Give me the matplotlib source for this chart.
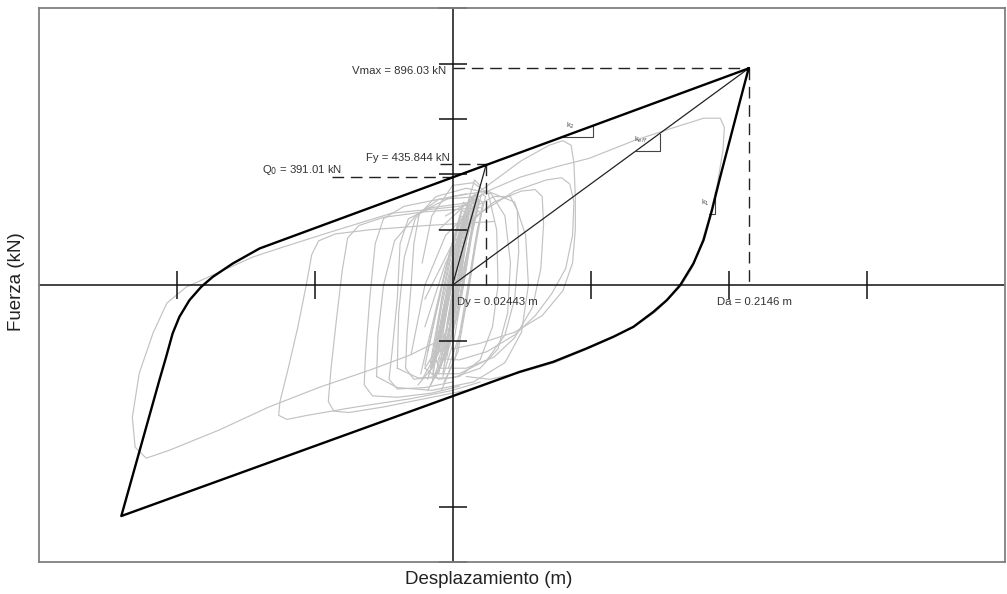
import matplotlib
matplotlib.use("Agg")
import matplotlib.pyplot as plt

plt.rcParams['font.family'] = ['Liberation Sans', 'DejaVu Sans']

# ---------------- data (displacement m, force kN as drawn) ----------------
# bilinear envelope loop (black)
loop_x = [0.2146, -0.1398, -0.1592, -0.1737, -0.1821, -0.1906, -0.1979, -0.2028,
          -0.2075, -0.2124, -0.2400, 0.0488, 0.0730, 0.0972, 0.1165, 0.1311,
          0.1456, 0.1553, 0.1650, 0.1746, 0.1819, 0.1880, 0.1940, 0.2085, 0.2146]
loop_y = [783, 132.5, 78.3, 30.0, -6.1, -54.2, -114.4, -174.4, -258.9, -343,
          -834, -313, -277, -228.5, -186.6, -150.5, -96.4, -54.2, 0, 78.3,
          162.5, 270.8, 391, 668, 783]

# key values
Q0 = 391.01
Fy = 435.844
Dy = 0.02443
Da = 0.2146
Vmax_drawn = 783
labels = ["Vmax = 896.03 kN", "Fy = 435.844 kN", "Q$_0$ = 391.01 kN",
          "Dy = 0.02443 m", "Da = 0.2146 m"]

xticks = [-0.2, -0.1, 0.1, 0.2, 0.3]
yticks = [1000, 800, 600, 400, 200, -200, -800, -1000]

# time-history hysteresis (gray)
g_left_x = [0.012, 0.0, -0.044, -0.089, -0.125, -0.145, -0.169, -0.193, -0.207,
            -0.217, -0.227, -0.232, -0.230, -0.222, -0.205, -0.169, -0.133,
            -0.096, -0.060, -0.031, -0.009, 0.002]
g_left_y = [290, 282, 260, 191, 134, 101, 47, -7, -65, -173, -318, -477, -585,
            -625, -596, -523, -440, -368, -307, -253, -199, -126]
g_right_x = [-0.005, 0.027, 0.049, 0.077, 0.099, 0.132, 0.159, 0.182, 0.194,
             0.197, 0.196, 0.192, 0.187, 0.181, 0.174, 0.166, 0.156, 0.147,
             0.132, 0.117, 0.098, 0.074, 0.049, 0.027, 0.010]
g_right_y = [250, 343, 390, 430, 458, 523, 567, 603, 603, 570, 488, 368, 260,
             162, 65, 0, -54, -97, -150, -188, -230, -280, -316, -340, -330]
m1_x = [0.03, -0.02, -0.06, -0.085, -0.097, -0.102, -0.106, -0.112, -0.119,
        -0.125, -0.126, -0.12, -0.105, -0.07, -0.03, 0.0, 0.02]
m1_y = [230, 215, 200, 185, 160, 110, 0, -150, -300, -420, -470, -485, -470,
        -440, -410, -380, -350]
m2_x = [0.02, -0.02, -0.05, -0.068, -0.076, -0.080, -0.084, -0.088, -0.090,
        -0.086, -0.075, -0.05, -0.02, 0.01]
m2_y = [280, 265, 245, 215, 170, 50, -120, -300, -420, -455, -460, -440, -410,
        -380]
m3_x = [0.02, -0.01, -0.035, -0.05, -0.056, -0.060, -0.063, -0.064, -0.058,
        -0.04, -0.015, 0.005]
m3_y = [320, 310, 285, 240, 150, -50, -250, -360, -400, -405, -390, -365]
m3b_x = [0.015, -0.015, -0.032, -0.038, -0.040, -0.044, -0.046, -0.04, -0.02, 0.0]
m3b_y = [300, 280, 240, 150, -50, -250, -340, -375, -370, -350]
m3c_x = [0.01, -0.01, -0.024, -0.028, -0.030, -0.033, -0.034, -0.028, -0.012]
m3c_y = [330, 310, 260, 150, 0, -180, -300, -340, -330]
m4_x = [-0.02, 0.0, 0.02, 0.045, 0.068, 0.079, 0.085, 0.088, 0.087, 0.082,
        0.072, 0.060, 0.045, 0.025, 0.005, -0.01]
m4_y = [-50, 150, 260, 340, 380, 388, 365, 300, 180, 60, -30, -110, -180, -240,
        -270, -265]
m5_x = [-0.01, 0.02, 0.05, 0.07, 0.080, 0.086, 0.088, 0.089, 0.089, 0.087,
        0.080, 0.065, 0.045, 0.02, 0.0]
m5_y = [200, 340, 450, 505, 522, 505, 440, 320, 200, 80, -20, -110, -170, -210,
        -230]
m6_x = [-0.04, -0.025, 0.0, 0.02, 0.033, 0.040, 0.042, 0.038, 0.028, 0.01,
        -0.012, -0.027, -0.035, -0.039, -0.04]
m6_y = [-300, -335, -335, -300, -230, -100, 80, 250, 330, 350, 320, 240, 100,
        -100, -300]
m7_x = [-0.055, -0.04, -0.015, 0.015, 0.038, 0.050, 0.055, 0.053, 0.045, 0.025,
        0.0, -0.025, -0.042, -0.05, -0.054, -0.055]
m7_y = [-330, -370, -380, -350, -280, -170, 0, 180, 300, 340, 320, 260, 160, 0,
        -180, -330]
m9_x = [-0.02, -0.005, 0.01, 0.03, 0.05, 0.060, 0.065, 0.066, 0.064, 0.058,
        0.045, 0.03, 0.01, -0.01]
m9_y = [-150, 80, 220, 300, 340, 345, 320, 220, 60, -80, -190, -260, -300, -300]
m10_x = [-0.03, -0.02, -0.005, 0.015, 0.03, 0.042, 0.047, 0.048, 0.045, 0.038,
         0.025, 0.005, -0.015]
m10_y = [-250, 0, 180, 280, 320, 320, 270, 120, -50, -180, -270, -320, -320]
m11_x = [-0.02, -0.01, 0.005, 0.02, 0.029, 0.033, 0.032, 0.026, 0.015, 0.0,
         -0.015, -0.022]
m11_y = [-300, -340, -330, -270, -150, 0, 200, 330, 370, 360, 250, 80]

n1_x = [-0.010, 0.000, 0.008, 0.014, 0.016, 0.010, 0.000, -0.008, -0.013, -0.010]
n1_y = [-300, -180, 0, 200, 300, 280, 150, -50, -250, -300]
n2_x = [-0.006, 0.003, 0.010, 0.015, 0.012, 0.004, -0.004, -0.010, -0.006]
n2_y = [-260, -120, 80, 240, 260, 120, -60, -220, -260]
n3_x = [-0.014, -0.004, 0.004, 0.012, 0.018, 0.014, 0.004, -0.006, -0.014, -0.014]
n3_y = [-340, -200, 0, 220, 330, 320, 140, -80, -280, -340]
n4_x = [-0.004, 0.002, 0.007, 0.011, 0.008, 0.002, -0.003, -0.007, -0.004]
n4_y = [-200, -100, 60, 190, 200, 80, -60, -180, -200]
n5_x = [-0.016, -0.006, 0.002, 0.010, 0.020, 0.016, 0.004, -0.004, -0.012, -0.018]
n5_y = [-360, -260, -60, 160, 360, 380, 180, -20, -240, -340]
n6_x = [-0.008, 0.002, 0.010, 0.016, 0.022, 0.018, 0.008, -0.002, -0.010]
n6_y = [-380, -260, -60, 140, 300, 310, 120, -100, -320]
n7_x = [-0.020, -0.010, -0.002, 0.006, 0.012, 0.008, -0.002, -0.010, -0.018]
n7_y = [-300, -220, -40, 160, 280, 300, 120, -60, -240]
n8_x = [-0.002, 0.004, 0.008, 0.010, 0.006, 0.002, -0.002, -0.004]
n8_y = [-150, -40, 100, 160, 150, 40, -80, -140]
n9_x = [-0.012, -0.002, 0.006, 0.013, 0.019, 0.016, 0.006, -0.004, -0.011, -0.014]
n9_y = [-330, -220, -20, 180, 310, 330, 160, -40, -230, -320]
n10_x = [-0.018, -0.008, 0.000, 0.008, 0.016, 0.013, 0.002, -0.008, -0.016]
n10_y = [-380, -290, -100, 120, 300, 320, 140, -80, -300]
n11_x = [-0.003, 0.005, 0.012, 0.018, 0.024, 0.021, 0.012, 0.003, -0.004]
n11_y = [-300, -180, 20, 200, 320, 330, 150, -60, -260]
n12_x = [-0.022, -0.013, -0.005, 0.003, 0.010, 0.007, -0.003, -0.012, -0.020]
n12_y = [-340, -260, -80, 120, 260, 270, 100, -100, -290]
n13_x = [-0.009, -0.002, 0.004, 0.009, 0.012, 0.009, 0.002, -0.004, -0.009]
n13_y = [-240, -120, 40, 180, 250, 250, 110, -60, -200]
n14_x = [-0.015, -0.006, 0.002, 0.009, 0.014, 0.011, 0.002, -0.007, -0.014]
n14_y = [-300, -200, -20, 160, 260, 270, 100, -90, -270]
n15_x = [-0.006, 0.004, 0.011, 0.017, 0.021, 0.018, 0.009, 0.0, -0.007]
n15_y = [-350, -240, -40, 150, 260, 270, 80, -120, -320]
n16_x = [-0.025, -0.015, -0.006, 0.001, 0.006, 0.003, -0.006, -0.015, -0.023]
n16_y = [-360, -300, -120, 60, 200, 200, 40, -150, -320]
n17_x = [-0.011, -0.003, 0.004, 0.010, 0.015, 0.012, 0.004, -0.004, -0.010]
n17_y = [-280, -170, 0, 170, 280, 290, 130, -40, -230]
n18_x = [-0.017, -0.010, -0.003, 0.004, 0.009, 0.006, -0.002, -0.010, -0.016]
n18_y = [-320, -240, -60, 120, 240, 250, 80, -110, -280]
n19_x = [-0.007, 0.001, 0.008, 0.014, 0.019, 0.016, 0.008, 0.000, -0.006]
n19_y = [-330, -200, 0, 180, 300, 310, 130, -80, -290]
n20_x = [-0.013, -0.005, 0.001, 0.007, 0.011, 0.008, 0.0, -0.006, -0.012]
n20_y = [-270, -170, -10, 150, 240, 240, 90, -70, -230]

gray_series = [(g_left_x, g_left_y), (g_right_x, g_right_y), (m1_x, m1_y),
               (m2_x, m2_y), (m3_x, m3_y), (m3b_x, m3b_y), (m3c_x, m3c_y),
               (m4_x, m4_y), (m5_x, m5_y), (m6_x, m6_y), (m7_x, m7_y),
               (m9_x, m9_y), (m10_x, m10_y), (m11_x, m11_y),
               (n1_x, n1_y), (n2_x, n2_y), (n3_x, n3_y), (n4_x, n4_y),
               (n5_x, n5_y), (n6_x, n6_y), (n7_x, n7_y), (n8_x, n8_y),
               (n9_x, n9_y), (n10_x, n10_y), (n11_x, n11_y), (n12_x, n12_y),
               (n13_x, n13_y), (n14_x, n14_y), (n15_x, n15_y), (n16_x, n16_y),
               (n17_x, n17_y), (n18_x, n18_y), (n19_x, n19_y), (n20_x, n20_y)]

# ---------------- figure ----------------
W, H = 1007, 594
fig = plt.figure(figsize=(W / 100, H / 100), dpi=100)
ax = fig.add_axes([38.5 / W, 1 - 562 / H, 966 / W, 553.7 / H])
ax.set_xlim(-0.3, 0.4)
ax.set_ylim(-1000, 1000)
ax.set_xticks([])
ax.set_yticks([])
for s in ax.spines.values():
    s.set_color('#808080')
    s.set_linewidth(1.3)

gray = '#c2c2c2'
for gx, gy in gray_series:
    ax.plot(gx, gy, color=gray, lw=0.85, zorder=1, solid_joinstyle='round')

# axes cross
ax.axhline(0, color='#111111', lw=1.1, zorder=2)
ax.axvline(0, color='#111111', lw=1.1, zorder=2)
ax.plot(xticks, [0] * len(xticks), ls='none', marker='|', ms=20, mew=1.1,
        color='#111111', zorder=2, clip_on=False)
ax.plot([0] * len(yticks), yticks, ls='none', marker='_', ms=20, mew=1.1,
        color='#111111', zorder=2, clip_on=False)

# envelope
ax.plot(loop_x, loop_y, color='black', lw=1.7, zorder=4, solid_joinstyle='round')

# stiffness lines
ax.plot([0, Dy], [0, Fy], color='#222222', lw=0.9, zorder=3)
ax.plot([0, Da], [0, Vmax_drawn], color='#222222', lw=0.9, zorder=3)

# dashed reference lines
dash = (0, (8.4, 4.8))
ax.plot([0, Da], [Vmax_drawn, Vmax_drawn], color='#222222', lw=1.0, ls=dash, zorder=3)
ax.plot([Da, Da], [Vmax_drawn, 0], color='#222222', lw=1.0, ls=dash, zorder=3)
ax.plot([-0.009, Dy], [Fy, Fy], color='#222222', lw=1.0, ls=dash, zorder=3)
ax.plot([Dy, Dy], [Fy, 0], color='#222222', lw=1.0, ls=dash, zorder=3)
ax.plot([-0.0876, 0], [Q0, Q0], color='#222222', lw=1.0, ls=dash, zorder=3)

# slope triangles
k2 = (Vmax_drawn - Q0) / Da
keff = Vmax_drawn / Da
k1r = 18400.0


def tri(xa, xb, f):
    ya = f(xa)
    yb = f(xb)
    ax.plot([xa, xb, xb], [ya, ya, yb], color='#444444', lw=0.8, zorder=3)


tri(0.0781, 0.1016, lambda x: Q0 + k2 * x)
tri(0.1327, 0.1500, lambda x: keff * x)
tri(0.1860, 0.1903, lambda x: Vmax_drawn + k1r * (x - Da))

kfs = 5.5
ax.text(0.0851, 574, "k$_2$", fontsize=kfs, color='#555555', ha='center', va='center')
ax.text(0.1366, 527, "k$_{eff}$", fontsize=kfs, color='#555555', ha='center', va='center')
ax.text(0.1832, 296, "k$_1$", fontsize=kfs, color='#555555', ha='center', va='center')

tfs = 8.2
tc = '#333333'
ax.text(-0.0049, 775, labels[0], fontsize=tfs, color=tc, ha='right', va='center')
ax.text(-0.002, 458, labels[1], fontsize=tfs, color=tc, ha='right', va='center')
ax.text(-0.0797, 415, labels[2], fontsize=tfs, color=tc, ha='right', va='center')
ax.text(0.003, -60, labels[3], fontsize=tfs, color=tc, ha='left', va='center')
ax.text(0.192, -60, labels[4], fontsize=tfs, color=tc, ha='left', va='center')

fig.text(489 / W, 1 - 580 / H, "Desplazamiento (m)", fontsize=13.5, color='#222222',
         ha='center', va='center')
fig.text(17 / W, 1 - 282 / H, "Fuerza (kN)", fontsize=13.5, color='#222222',
         ha='center', va='center', rotation=90)

fig.savefig("out.png", dpi=100)
